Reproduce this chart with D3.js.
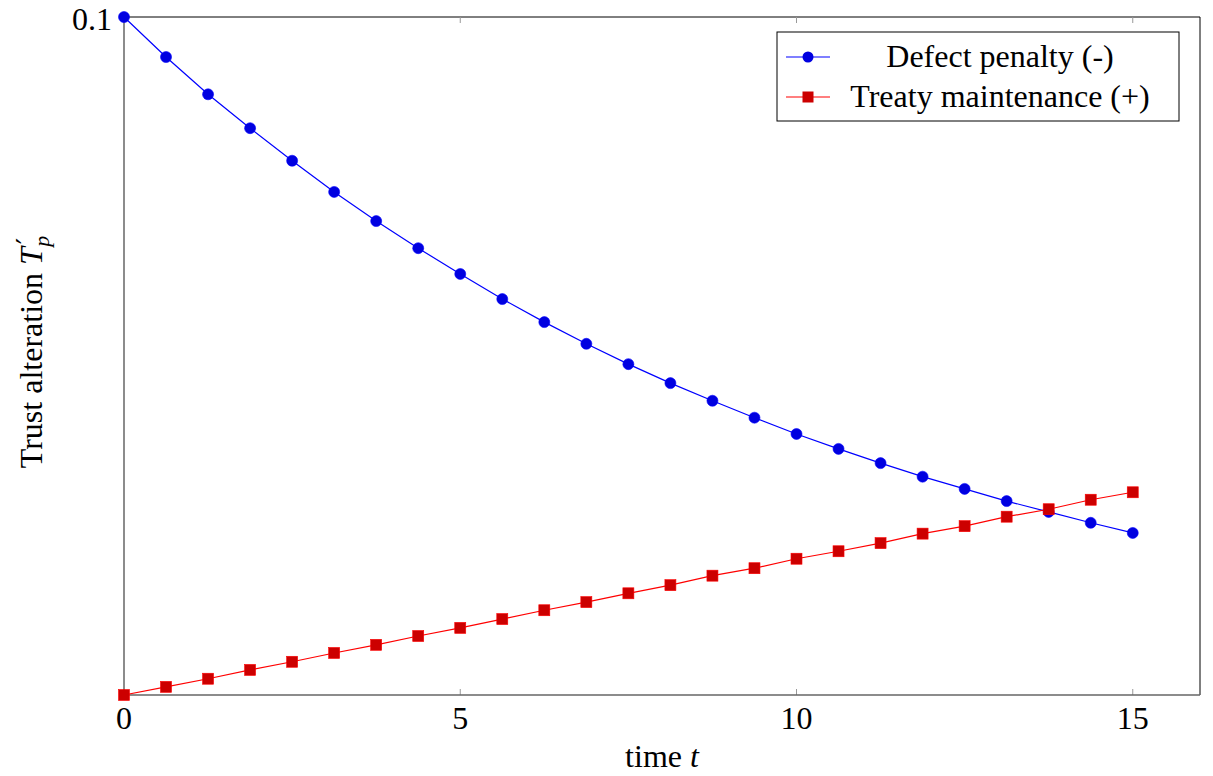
<!DOCTYPE html>
<html><head><meta charset="utf-8">
<script src="https://cdn.jsdelivr.net/npm/d3@7"></script>
<style>body{margin:0;background:#fff}svg{display:block}text{font-family:"Liberation Serif","DejaVu Serif",serif;fill:#000}</style>
</head><body><svg id="c" width="1213" height="776"></svg>
<script>
const times = d3.range(25).map(i => i * 0.625);
const defectPenalty = [0.1, 0.0941, 0.0886, 0.0836, 0.0788, 0.0742, 0.0699, 0.0659, 0.0621, 0.0584, 0.0550, 0.0518, 0.0488, 0.0460, 0.0434, 0.0409, 0.0385, 0.0363, 0.0342, 0.0322, 0.0304, 0.0286, 0.0270, 0.0254, 0.0239];
const treatyMaintenance = [0, 0.0012, 0.0024, 0.0037, 0.0049, 0.0062, 0.0074, 0.0087, 0.0099, 0.0112, 0.0125, 0.0137, 0.0150, 0.0162, 0.0176, 0.0187, 0.0201, 0.0212, 0.0224, 0.0238, 0.0249, 0.0263, 0.0274, 0.0288, 0.0299];
const xTicks = [0, 5, 10, 15];
const yTicks = [0.1];
const seriesNames = ["Defect penalty (-)", "Treaty maintenance (+)"];

const svg = d3.select("#c");
const L = 124, R = 1200, T = 17, B = 695;
const x = d3.scaleLinear().domain([0, 16]).range([L, R]);
const y = d3.scaleLinear().domain([0, 0.1]).range([B, T]);
const fs = 32;

// frame
svg.append("line").attr("x1", L).attr("x2", R).attr("y1", T).attr("y2", T).attr("stroke", "#000").attr("stroke-width", 1);
svg.append("line").attr("x1", R).attr("x2", R).attr("y1", T).attr("y2", B).attr("stroke", "#000").attr("stroke-width", 1);

// ticks top/bottom
xTicks.forEach(v => {
  svg.append("line").attr("x1", x(v)).attr("x2", x(v)).attr("y1", B).attr("y2", B - 6).attr("stroke", "#999").attr("stroke-width", 1);
  svg.append("line").attr("x1", x(v)).attr("x2", x(v)).attr("y1", T).attr("y2", T + 6).attr("stroke", "#999").attr("stroke-width", 1);
  svg.append("text").attr("x", x(v)).attr("y", 729).attr("text-anchor", "middle").attr("font-size", fs).text(v);
});
yTicks.forEach(v => {
  svg.append("text").attr("x", L - 12).attr("y", y(v) + 13).attr("text-anchor", "end").attr("font-size", fs).text(v);
});

svg.append("line").attr("x1", L).attr("x2", L).attr("y1", T).attr("y2", B).attr("stroke", "#666").attr("stroke-width", 1.5);
svg.append("line").attr("x1", L).attr("x2", R).attr("y1", B).attr("y2", B).attr("stroke", "#666").attr("stroke-width", 1.5);

const line = d3.line().x((d, i) => x(times[i])).y(d => y(d));
svg.append("path").datum(defectPenalty).attr("d", line).attr("fill", "none").attr("stroke", "#0000ff").attr("stroke-width", 1.2);
svg.append("path").datum(treatyMaintenance).attr("d", line).attr("fill", "none").attr("stroke", "#ff0000").attr("stroke-width", 1.2);

svg.selectAll(".dp").data(defectPenalty).enter().append("circle")
  .attr("cx", (d, i) => x(times[i])).attr("cy", d => y(d)).attr("r", 5.5).attr("fill", "#0000e0").attr("stroke", "#0000ff").attr("stroke-width", 0.6);
const s = 11;
svg.selectAll(".tm").data(treatyMaintenance).enter().append("rect")
  .attr("x", (d, i) => x(times[i]) - s / 2).attr("y", d => y(d) - s / 2).attr("width", s).attr("height", s)
  .attr("fill", "#cc0000").attr("stroke", "#ff0000").attr("stroke-width", 0.6);

// axis labels
const xl = svg.append("text").attr("x", x(8)).attr("y", 767).attr("text-anchor", "middle").attr("font-size", fs);
xl.append("tspan").text("time ");
xl.append("tspan").attr("font-style", "italic").text("t");
const yl = svg.append("text").attr("transform", `translate(42,352) rotate(-90)`).attr("text-anchor", "middle").attr("font-size", fs);
yl.append("tspan").text("Trust alteration ");
yl.append("tspan").attr("font-style", "italic").text("T");
yl.append("tspan").attr("dy", -5).attr("dx", 3).attr("font-size", 28).attr("font-family", "DejaVu Serif").text("′");
yl.append("tspan").attr("font-style", "italic").attr("dy", 12).attr("dx", -9).attr("font-size", 22).text("p");

// legend
const lg = svg.append("g");
lg.append("rect").attr("x", 777).attr("y", 32).attr("width", 402).attr("height", 89).attr("fill", "#fff").attr("stroke", "#000").attr("stroke-width", 1);
const rows = [{n: seriesNames[0], c: "#0000ff", f: "#0000e0", m: "circle", yy: 57}, {n: seriesNames[1], c: "#ff0000", f: "#cc0000", m: "rect", yy: 97}];
rows.forEach(r => {
  lg.append("line").attr("x1", 786).attr("x2", 830).attr("y1", r.yy).attr("y2", r.yy).attr("stroke", r.c).attr("stroke-width", 1.2);
  if (r.m === "circle") lg.append("circle").attr("cx", 808).attr("cy", r.yy).attr("r", 5.5).attr("fill", r.f);
  else lg.append("rect").attr("x", 808 - s / 2).attr("y", r.yy - s / 2).attr("width", s).attr("height", s).attr("fill", r.f);
  lg.append("text").attr("x", 1000).attr("y", r.yy + 10).attr("text-anchor", "middle").attr("font-size", fs).text(r.n);
});
</script></body></html>
